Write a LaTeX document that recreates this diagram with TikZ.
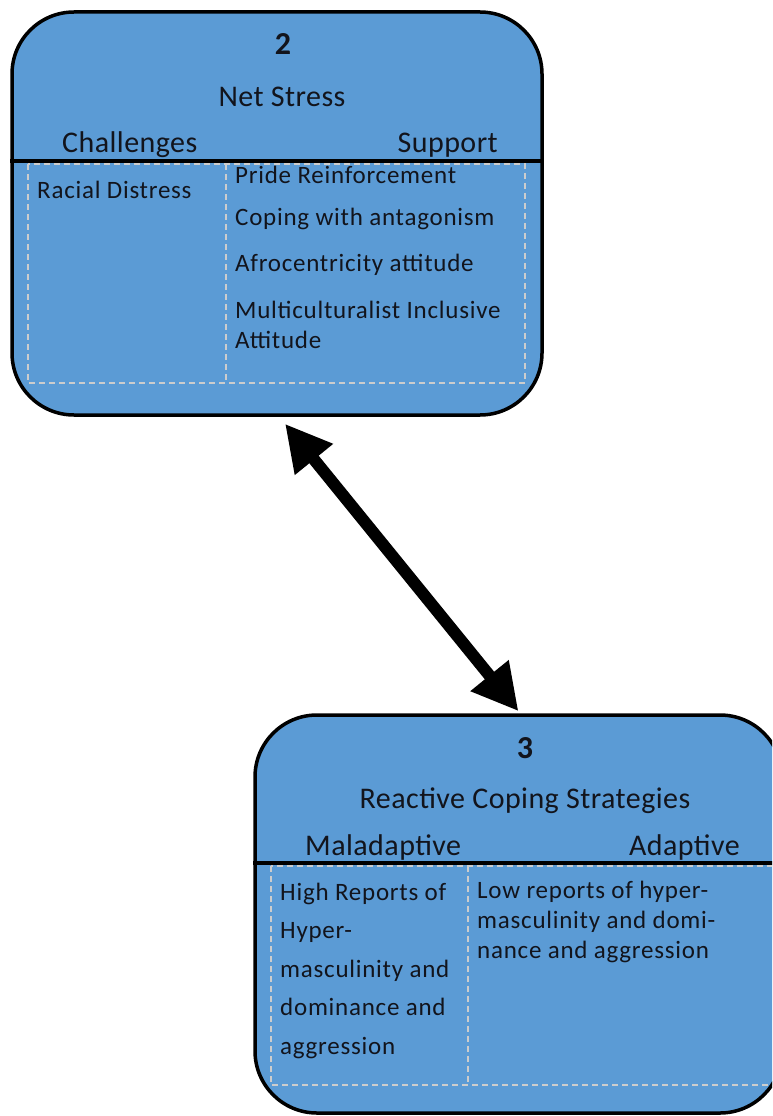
\documentclass[tikz,border=0pt]{standalone}
\usepackage{fontspec}
\setmainfont{Carlito}
\usepackage{xcolor}
\usepackage{tikz}
\usetikzlibrary{arrows.meta,positioning}
\definecolor{panelblue}{RGB}{91,155,213}
\definecolor{gridgrey}{RGB}{205,205,205}
\definecolor{inkdark}{RGB}{18,20,28}
\newfontfamily\headfam[LetterSpace=1.5]{Carlito}
\newfontfamily\bodyfam[LetterSpace=3]{Carlito}
\newcommand{\numsize}{\fontsize{32}{38}\selectfont\bfseries}
\newcommand{\headsize}{\headfam\fontsize{30}{36}\selectfont}
\newcommand{\itemsize}{\bodyfam\fontsize{25}{30}\selectfont}

\begin{document}
\begin{tikzpicture}[
    x=1pt, y=-1pt,
    panel/.style={rectangle, draw=black, line width=3.5pt, fill=panelblue, rounded corners=62pt, inner sep=0pt},
    divider/.style={line width=3.5pt},
    grid/.style={draw=gridgrey, line width=1.3pt, dash pattern=on 6pt off 4pt},
    numlabel/.style={inner sep=0pt, anchor=base, text=inkdark, font=\numsize},
    head/.style={inner sep=0pt, text=inkdark, font=\headsize},
    entry/.style={inner sep=0pt, anchor=base west, align=left, text=inkdark, font=\itemsize},
    bidir/.style={{Triangle[length=46pt,width=46pt]}-{Triangle[length=46pt,width=46pt]}, line width=12pt}
]
    \useasboundingbox (0,0) rectangle (772,1116);
    \clip (0,0) rectangle (772,1116);

    % Panels
    \node[panel, minimum width=530pt, minimum height=403pt] (netstress) at (277,213.5) {};
    \node[panel, minimum width=527pt, minimum height=398pt] (coping) at (518.5,914) {};

    % Dividers and inner grids
    \coordinate (splitA) at (0,161);
    \coordinate (splitB) at (0,863);
    \draw[divider] (netstress.west |- splitA) -- (netstress.east |- splitA);
    \draw[divider] (coping.west |- splitB) -- (coping.east |- splitB);
    \draw[grid] (28,164) rectangle (525,383);
    \draw[grid] (226,164) -- (226,383);
    \draw[grid] (271,866) rectangle (778,1085);
    \draw[grid] (468,866) -- (468,1085);

    % Headings
    \node[numlabel] (numtwo) at (283,55) {2};
    \node[head, anchor=base] (nettitle) at (282,106) {Net Stress};
    \node[head, anchor=base west] (challenges) at (62,152) {Challenges};
    \node[head, anchor=base east] (support) at (498,152) {Support};
    \node[numlabel] (numthree) at (525,758) {3};
    \node[head, anchor=base] (copetitle) at (525,808) {Reactive Coping Strategies};
    \node[head, anchor=base west] (maladaptive) at (305,855) {Maladaptive};
    \node[head, anchor=base east] (adaptive) at (740,855) {Adaptive};

    % Entries (multi-line ones sit on their last baseline)
    \node[entry] (distress) at (37,198) {Racial Distress};
    \node[entry] (pride) at (235,183) {Pride Reinforcement};
    \node[entry] (antagonism) at (235,225) {Coping with antagonism};
    \node[entry] (afro) at (235,271) {Afrocentricity attitude};
    \node[entry] (multi) at (235,348) {Multiculturalist Inclusive\\Attitude};
    \node[entry] (highrep) at (280,1054) {High Reports of\\[8.5pt]Hyper-\\[8.5pt]masculinity and\\[8.5pt]dominance and\\[8.5pt]aggression};
    \node[entry] (lowrep) at (477,958) {Low reports of hyper-\\masculinity and domi-\\nance and aggression};

    % Arrows
    \draw[bidir] ([xshift=8pt,yshift=-7pt]netstress.south) -- ([yshift=2pt]coping.north);

\end{tikzpicture}
\end{document}
